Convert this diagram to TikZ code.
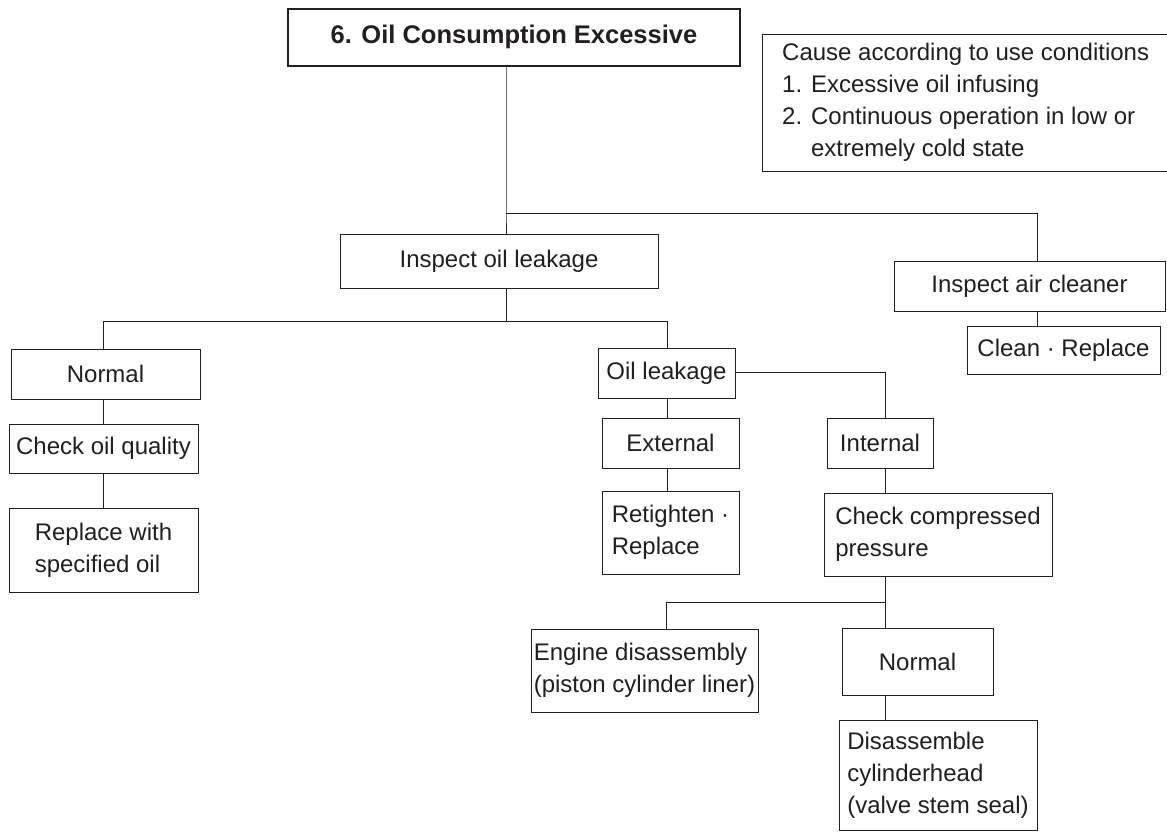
\documentclass[tikz,border=0pt]{standalone}
\usepackage{fontspec}
\setmainfont{Liberation Sans}
\definecolor{ink}{HTML}{231F20}
\begin{document}
\begin{tikzpicture}[x=1pt,y=-1pt,
  every node/.style={text=ink,font=\fontsize{24}{32}\selectfont},
  box/.style={draw=ink,line width=0.9pt,rectangle,inner sep=0pt,align=center},
  lbox/.style={draw=ink,line width=0.9pt,rectangle,inner sep=0pt,align=left},
  conn/.style={draw=ink,line width=0.9pt}]
\useasboundingbox[fill=white] (0,0) rectangle (1167,832);
% title
\node[box,line width=2pt,minimum width=452pt,minimum height=57pt,font=\fontsize{25.5}{30}\selectfont\bfseries] (title) at (514,37.3) {6. Oil Consumption Excessive};
% cause box
\node[anchor=west,inner sep=0pt,align=left] (cause) at (782,102.5) {Cause according to use conditions\\1. Excessive oil infusing\\2. Continuous operation in low or\\\phantom{2. }extremely cold state};
\draw[conn] (1180,34) -- (762,34) -- (762,171) -- (1180,171);
% nodes
\node[box,minimum width=318pt,minimum height=54pt] (inspoil) at (499,261) {Inspect oil leakage};
\node[box,minimum width=271pt,minimum height=50pt] (air) at (1029.5,286) {Inspect air cleaner};
\node[box,minimum width=193pt,minimum height=48pt] (clean) at (1063.5,350) {Clean · Replace};
\node[box,minimum width=189pt,minimum height=50pt] (normL) at (105.5,374) {Normal};
\node[box,minimum width=189pt,minimum height=49pt] (chkoil) at (103.5,448.5) {Check oil quality};
\node[lbox,minimum width=189pt,minimum height=84pt] (repl) at (103.5,550) {Replace with\\specified oil};
\node[box,minimum width=137pt,minimum height=50pt] (oilleak) at (666.5,373) {Oil leakage};
\node[box,minimum width=137pt,minimum height=50pt] (ext) at (670.5,443) {External};
\node[lbox,minimum width=137pt,minimum height=83pt] (retight) at (670.5,532.5) {Retighten ·\\Replace};
\node[box,minimum width=106pt,minimum height=50pt] (internal) at (880,443) {Internal};
\node[lbox,minimum width=228pt,minimum height=83pt] (chkcomp) at (938,534.5) {Check compressed\\pressure};
\node[lbox,minimum width=227pt,minimum height=83pt] (engine) at (644.5,670.5) {Engine disassembly\\(piston cylinder liner)};
\node[box,minimum width=151pt,minimum height=67pt] (normB) at (917.5,661.5) {Normal};
\node[lbox,minimum width=198pt,minimum height=110pt] (disasm) at (938,775) {Disassemble\\cylinderhead\\(valve stem seal)};
% junctions
\coordinate (j1) at (506,213);
\coordinate (ja) at (1037,213);
\coordinate (j2) at (506,321);
\coordinate (jL) at (103,321);
\coordinate (jR) at (667,321);
\coordinate (ji) at (885,372);
\coordinate (j3) at (885,602);
\coordinate (j3L) at (666,602);
% connectors
\draw[conn] (title.south -| j1) -- (j1) -- (inspoil.north -| j1);
\draw[conn] (j1) -- (ja) -- (air.north -| ja);
\draw[conn] (air.south -| ja) -- (clean.north -| ja);
\draw[conn] (inspoil.south -| j2) -- (j2);
\draw[conn] (jL) -- (jR);
\draw[conn] (jL) -- (normL.north -| jL);
\draw[conn] (normL.south -| jL) -- (chkoil.north -| jL);
\draw[conn] (chkoil.south -| jL) -- (repl.north -| jL);
\draw[conn] (jR) -- (oilleak.north -| jR);
\draw[conn] (oilleak.south -| jR) -- (ext.north -| jR);
\draw[conn] (ext.south -| jR) -- (retight.north -| jR);
\draw[conn] (oilleak.east |- ji) -- (ji) -- (internal.north -| ji);
\draw[conn] (internal.south -| ji) -- (chkcomp.north -| ji);
\draw[conn] (chkcomp.south -| j3) -- (j3) -- (normB.north -| j3);
\draw[conn] (j3) -- (j3L) -- (engine.north -| j3L);
\draw[conn] (normB.south -| j3) -- (disasm.north -| j3);
\end{tikzpicture}
\end{document}
